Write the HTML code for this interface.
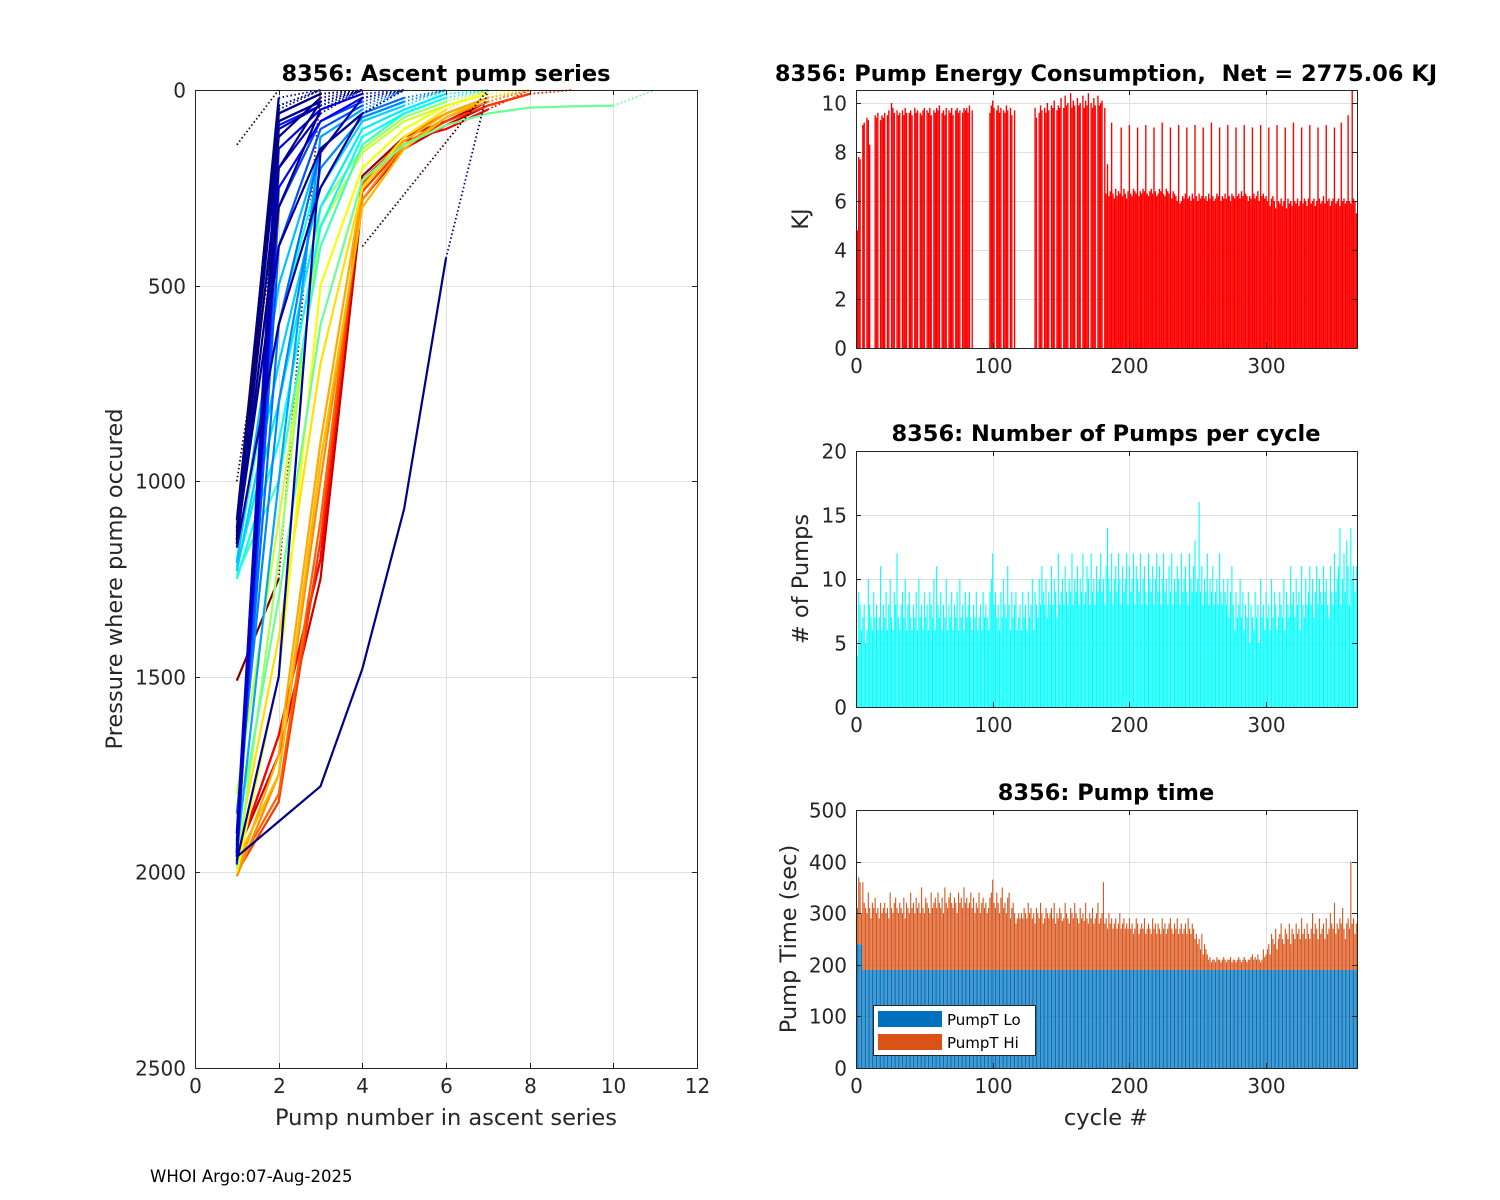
<!DOCTYPE html>
<html><head><meta charset="utf-8"><title>8356 pump summary</title>
<style>
html,body{margin:0;padding:0;background:#fff;}
svg{display:block;font-family:"DejaVu Sans","Liberation Sans",sans-serif;}
</style></head>
<body>
<svg id="fig" width="1500" height="1200" viewBox="0 0 1500 1200" xmlns="http://www.w3.org/2000/svg">
<rect x="0" y="0" width="1500" height="1200" fill="#fff"/>
<text x="150" y="1182" font-size="16.5" fill="#000">WHOI Argo:07-Aug-2025</text>
</svg>
<script>
// ---------------- DATA ----------------
const energyKJ = [
4.8,7.8,7.7,0,9.1,9.2,0,9.4,9.3,8.3, 0,0,0,9.5,9.4,9.6,0,9.3,9.5,9.4,
9.6,0,9.5,9.7,0,10,9.8,9.6,0,9.7, 9.5,9.6,0,9.7,9.5,9.8,9.6,0,9.6,9.7,
9.5,0,9.8,9.6,9.7,0,9.6,9.5,9.7,9.8, 0,9.7,9.6,9.8,9.5,0,9.7,9.6,9.8,9.7,
9.9,0,9.6,9.7,9.5,9.8,0,9.7,9.6,9.8, 9.5,0,9.7,9.8,9.6,9.7,0,9.6,9.8,9.7,
9.8,9.6,9.9,0,9.7,0,0,0,0,0, 0,0,0,0,0,0,0,9.6,9.9,10.1,
9.8,0,9.7,9.9,9.6,9.8,0,9.7,9.6,9.9, 9.7,0,9.8,9.5,0,9.7,0,0,0,0,
0,0,0,0,0,0,0,0,0,0, 9.8,9.4,0,9.6,9.9,9.7,0,9.8,9.6,10,
9.7,0,9.9,9.8,10.1,0,9.7,9.9,9.8,10.2, 0,9.8,10.3,9.9,10,0,10.4,9.8,10.1,9.9,
0,10.2,9.9,10,0,10.3,9.8,10.1,9.9,10.4, 0,10,9.8,10.2,9.9,0,10.3,9.9,10,10.1,
0,9.8,6.3,7.5,6.2,6.4,9.2,6.3,6.1,6.5,
6.2,6.4,6.3,9.0,6.2,6.5,6.3,6.1,6.4,9.1,6.3,6.2,6.5,6.4,6.3,9.0,6.2,6.4,6.3,6.5,
6.4,9.1,6.3,6.2,6.4,6.5,6.3,9.0,6.4,6.2,6.3,6.5,6.4,9.2,6.3,6.2,6.5,6.4,6.3,9.0,
6.1,6.4,6.3,6.2,6.0,9.1,5.9,6.0,6.2,6.1,6.3,9.0,6.1,6.2,6.0,6.3,6.1,9.1,6.2,6.0,
6.3,6.1,6.2,9.0,6.1,6.2,6.0,6.3,6.1,9.2,6.2,6.0,6.1,6.3,6.2,9.0,6.0,6.2,6.1,6.3,
6.1,9.1,6.2,6.0,6.3,6.2,6.1,9.0,6.2,6.3,6.1,6.4,6.2,9.1,6.3,6.2,6.0,6.2,6.1,9.0,
6.3,6.1,6.2,6.4,6.0,9.1,6.2,6.3,6.1,6.2,6.0,9.0,5.8,6.1,6.2,6.0,5.7,9.1,6.0,5.9,
6.1,5.8,6.0,9.0,5.7,6.1,5.9,6.0,5.8,9.2,6.0,5.9,6.1,5.8,6.0,9.0,5.9,6.1,6.0,5.8,
6.1,9.1,5.9,6.0,6.1,5.8,6.0,9.0,6.1,5.9,6.0,6.2,5.9,9.1,6.0,6.1,5.8,6.0,6.1,9.0,
5.9,6.0,6.1,5.8,9.2,6.0,6.1,5.9,6.0,9.5,6.0,5.9,10.5,6.1,6.0,5.5
];
const pumpCount = [
4,9,8,6,7,8,5,6,10,8,7,6,9,7,8,6,7,11,6,8,
7,9,6,8,10,7,6,9,8,12,7,6,8,9,7,10,6,8,9,7,
6,8,7,9,6,10,7,8,6,9,7,8,6,9,8,7,10,6,11,8,
7,9,6,8,7,10,6,8,7,9,6,8,7,9,6,10,7,8,6,9,
7,8,9,7,6,8,7,9,6,7,8,6,9,7,8,7,6,9,10,12,
8,9,7,8,6,9,7,10,8,7,11,8,6,9,7,8,9,6,7,8,
6,9,7,8,6,9,7,8,10,6,9,8,7,10,8,11,9,8,10,7,
9,8,11,8,10,9,7,12,8,9,10,8,11,9,8,10,9,12,8,10,
9,11,8,10,9,12,8,9,11,10,8,12,9,10,8,11,9,10,12,9,
10,8,11,14,10,9,12,8,10,11,9,12,10,8,11,9,10,12,8,11,
9,10,12,8,11,10,9,12,8,10,11,9,8,12,10,9,11,8,10,12,
9,11,8,10,12,9,10,8,11,9,12,8,10,9,11,10,8,12,9,10,
11,9,8,12,10,9,11,13,9,10,
16,9,11,8,10,9,12,8,10,9,11,8,9,10,8,12,9,8,10,9,
8,10,7,9,11,8,6,9,7,8,10,7,9,6,8,7,9,5,8,7,
6,9,7,8,5,10,7,8,6,9,7,8,6,10,7,9,8,6,7,9,
8,7,10,6,9,8,7,11,8,9,7,10,8,9,6,11,8,7,10,8,
9,11,8,10,7,9,11,8,10,9,8,11,9,10,8,7,11,9,8,12,
9,10,11,14,8,10,12,9,13,11,8,14,10,11,9,11
];
const pumpTimeLo = [
240,240,240,240,190,190,190,190,190,190,190,190,190,190,190,190,190,190,190,190,
190,190,190,190,190,190,190,190,190,190,190,190,190,190,190,190,190,190,190,190,
190,190,190,190,190,190,190,190,190,190,190,190,190,190,190,190,190,190,190,190,
190,190,190,190,190,190,190,190,190,190,190,190,190,190,190,190,190,190,190,190,
190,190,190,190,190,190,190,190,190,190,190,190,190,190,190,190,190,190,190,190,
190,190,190,190,190,190,190,190,190,190,190,190,190,190,190,190,190,190,190,190,
190,190,190,190,190,190,190,190,190,190,190,190,190,190,190,190,190,190,190,190,
190,190,190,190,190,190,190,190,190,190,190,190,190,190,190,190,190,190,190,190,
190,190,190,190,190,190,190,190,190,190,190,190,190,190,190,190,190,190,190,190,
190,190,190,190,190,190,190,190,190,190,190,190,190,190,190,190,190,190,190,190,
190,190,190,190,190,190,190,190,190,190,190,190,190,190,190,190,190,190,190,190,
190,190,190,190,190,190,190,190,190,190,190,190,190,190,190,190,190,190,190,190,
190,190,190,190,190,190,190,190,190,190,190,190,190,190,190,190,190,190,190,190,
190,190,190,190,190,190,190,190,190,190,190,190,190,190,190,190,190,190,190,190,
190,190,190,190,190,190,190,190,190,190,190,190,190,190,190,190,190,190,190,190,
190,190,190,190,190,190,190,190,190,190,190,190,190,190,190,190,190,190,190,190,
190,190,190,190,190,190,190,190,190,190,190,190,190,190,190,190,190,190,190,190,
190,190,190,190,190,190,190,190,190,190,190,190,190,190,190,190,190,190,190,190,
190,190,190,190,190,190
];
const pumpTimeHi = [
70,130,120,60,170,130,120,110,150,120,100,130,120,140,110,120,100,130,110,120,
130,110,120,100,150,120,110,130,140,120,110,130,120,110,140,100,130,120,110,150,
120,130,110,140,120,130,110,160,120,110,140,130,120,110,150,120,130,140,120,150,
130,120,140,110,160,130,120,140,150,130,120,140,130,110,150,130,140,120,160,130,
140,120,130,150,120,140,110,130,120,150,110,130,140,120,130,110,120,140,150,175,
130,120,150,130,110,140,160,120,130,110,140,150,100,120,130,110,90,100,110,100,
110,100,120,110,100,130,110,120,100,110,90,120,110,100,130,110,90,100,120,110,
100,110,120,100,130,90,110,100,120,110,95,100,130,110,100,90,120,110,100,130,
110,100,90,120,100,110,95,130,100,90,110,100,120,90,100,110,130,90,100,110,
170,90,100,80,110,90,100,80,90,100,80,90,110,80,90,100,80,90,80,100,
80,90,70,80,100,90,70,80,90,80,100,70,80,90,80,70,100,80,90,70,
90,80,70,100,80,90,70,80,90,100,80,70,90,80,100,70,80,90,70,80,
90,70,100,80,70,90,80,60,70,50,60,40,70,30,50,40,30,20,25,15,
20,20,15,25,20,20,15,20,25,20,15,20,20,25,15,20,20,15,20,25,
20,15,20,25,20,15,20,20,25,30,20,25,20,30,20,15,20,40,25,30,
40,50,30,70,60,50,80,40,60,70,90,60,50,80,70,60,90,50,80,70,
60,90,70,80,60,100,70,80,60,90,70,60,80,110,70,90,80,60,100,70,
80,90,60,100,70,80,110,90,80,130,70,90,80,100,90,120,80,60,90,100,
80,210,90,100,70,90
];
// ascent profiles: pressure at pump 1..n (last point = surfacing, drawn dotted)
const profilePressures = [
[1960,1650,1200,220,120,80,30,0],
[1510,1250,0],
[1950,1700,1250,280,150,90,40,10,0],
[1960,1650,1200,230,130,100,50,0],
[2000,1820,1150,260,140,80,40,10,0],
[1990,1800,1100,240,120,60,20,0],
[2010,1750,1000,280,140,70,30,0],
[2000,1700,900,250,130,60,20,0],
[1970,1750,950,300,150,70,20,0],
[1950,1400,700,250,120,50,0],
[2000,1500,500,200,100,40,10,0],
[1800,1100,350,160,80,40,0],
[1990,1200,300,150,70,30,0],
[1900,1300,600,230,140,90,60,45,42,40,0],
[1240,1000,400,140,60,0],
[1200,600,200,70,30,0],
[1250,900,350,120,60,20,0],
[1220,800,300,100,50,10,0],
[1230,700,250,80,40,0],
[1210,500,150,60,0],
[1950,1000,120,50,0],
[1850,800,200,70,30,0],
[1900,600,150,60,20,0],
[1950,400,100,40,0],
[1960,300,80,30,0],
[1920,40,0],
[1980,90,40,0],
[1950,250,80,20,0],
[1900,80,30,0],
[1940,150,50,10,0],
[1960,60,10,0],
[1950,100,40,0],
[1930,200,60,0],
[1960,1870,1780,1480,1070,430,0],
[1970,1500,160,20,0],
[1130,20,0],
[1150,200,30,0],
[1100,40,0],
[1160,300,50,0],
[1140,120,20,0],
[1150,60,10,0],
[1120,80,30,0],
[1150,400,150,60,0],
[1170,600,250,60,0],
[1160,50,0]
];
const profileCycle = [360,366,340,320,300,285,270,260,255,240,225,210,195,175,160,150,140,130,120,115,105,95,85,75,70,65,55,45,40,35,30,25,20,3,12,10,8,6,4,2,1,5,7,9,0];
const leftXTicks = [0,2,4,6,8,10,12];
const leftYTicks = [0,500,1000,1500,2000,2500];
const cycleTicks = [0,100,200,300];
const energyTicks = [0,2,4,6,8,10];
const pumpTicks = [0,5,10,15,20];
const timeTicks = [0,100,200,300,400,500];

// ---------------- RENDER ----------------
const NS = "http://www.w3.org/2000/svg";
const svg = document.getElementById("fig");
const TICK_FS = 20, LABEL_FS = 22.5;
function mk(tag, attrs, parent){
  const el = document.createElementNS(NS, tag);
  for (const k in attrs) el.setAttribute(k, attrs[k]);
  (parent || svg).appendChild(el);
  return el;
}
function jet(t){
  const r = Math.max(0, Math.min(1, 1.5 - Math.abs(4*t - 3)));
  const g = Math.max(0, Math.min(1, 1.5 - Math.abs(4*t - 2)));
  const b = Math.max(0, Math.min(1, 1.5 - Math.abs(4*t - 1)));
  return `rgb(${Math.round(r*255)},${Math.round(g*255)},${Math.round(b*255)})`;
}
function makeAxes(name, x0, y0, w, h, xmin, xmax, ymin, ymax, xticks, yticks, revY){
  const ax = {
    sx: v => x0 + (v - xmin) / (xmax - xmin) * w,
    sy: v => revY ? y0 + (v - ymin) / (ymax - ymin) * h : y0 + h - (v - ymin) / (ymax - ymin) * h,
    x0, y0, w, h
  };
  const g = mk("g", {});
  
  
  const bg = mk("rect", {x:x0, y:y0, width:w, height:h, fill:"#fff"}, g);
  
  
  const grid = mk("g", {stroke:"#dfdfdf", "stroke-width":1}, g);
  
  
  xticks.forEach(t => {
    const x = Math.round(ax.sx(t)) + 0.5;
    mk("line", {x1:x, x2:x, y1:y0, y2:y0+h}, grid);
  });
  yticks.forEach(t => {
    const y = Math.round(ax.sy(t)) + 0.5;
    mk("line", {x1:x0, x2:x0+w, y1:y, y2:y}, grid);
  });
  ax.plot = mk("g", {}, g);
  
  
  ax.finish = function(){
    const f = mk("g", {}, g);
    
    
    mk("rect", {x:x0+0.5, y:y0+0.5, width:w, height:h, fill:"none", stroke:"#262626", "stroke-width":1}, f);
    xticks.forEach(t => {
      const x = Math.round(ax.sx(t)) + 0.5;
      mk("line", {x1:x, x2:x, y1:y0+h, y2:y0+h-5, stroke:"#262626"}, f);
      mk("line", {x1:x, x2:x, y1:y0, y2:y0+5, stroke:"#262626"}, f);
      const tl = mk("text", {x:x, y:y0+h+25, "text-anchor":"middle", "font-size":TICK_FS, fill:"#262626"}, f);
      tl.textContent = String(t);
      
      
    });
    yticks.forEach(t => {
      const y = Math.round(ax.sy(t)) + 0.5;
      mk("line", {x1:x0, x2:x0+5, y1:y, y2:y, stroke:"#262626"}, f);
      mk("line", {x1:x0+w, x2:x0+w-5, y1:y, y2:y, stroke:"#262626"}, f);
      const tl = mk("text", {x:x0-9, y:y+7, "text-anchor":"end", "font-size":TICK_FS, fill:"#262626"}, f);
      tl.textContent = String(t);
      
      
    });
  };
  return ax;
}
function label(txt, x, y, size, weight, rot, nm){
  const a = {x:x, y:y, "text-anchor":"middle", "font-size":size, fill: weight ? "#000" : "#262626"};
  if (weight) a["font-weight"] = "bold";
  if (rot) a.transform = `rotate(-90 ${x} ${y})`;
  const t = mk("text", a);
  t.textContent = txt;
  
  
  return t;
}

// Left: ascent pump series
const axL = makeAxes("ascent", 195, 90, 502, 978, 0, 12, 0, 2500, leftXTicks, leftYTicks, true);
profilePressures.forEach((prof, k) => {
  const col = jet(profileCycle[k] / 366);
  const n = prof.length;
  let d = "";
  for (let i = 0; i < n - 1; i++) d += (i ? "L" : "M") + axL.sx(i+1).toFixed(1) + " " + axL.sy(prof[i]).toFixed(1);
  const solid = mk("path", {d:d, fill:"none", stroke:col, "stroke-width":2.2, "stroke-linejoin":"round"}, axL.plot);
  
  
  const dot = mk("line", {x1:axL.sx(n-1), y1:axL.sy(prof[n-2]), x2:axL.sx(n), y2:axL.sy(prof[n-1]), stroke:col, "stroke-width":1.8, "stroke-dasharray":"1.5 2.5"}, axL.plot);
  
  
});
const dottedFrom = [[1,140,2,0],[1,1000,2,300],[4,400,7,0]];
dottedFrom.forEach(s => {
  const dl = mk("line", {x1:axL.sx(s[0]), y1:axL.sy(s[1]), x2:axL.sx(s[2]), y2:axL.sy(s[3]), stroke:"#300000", "stroke-width":1.8, "stroke-dasharray":"1.5 2.5"}, axL.plot);
  
  
});
axL.finish();
label("8356: Ascent pump series", 446, 81, LABEL_FS, true, false, "ascent-title");
label("Pump number in ascent series", 446, 1125, LABEL_FS, false, false, "ascent-x-axis-title");
label("Pressure where pump occured", 122, 579, LABEL_FS, false, true, "ascent-y-axis-title");

// Right top: energy
const XMAX = 366.5;
const axE = makeAxes("energy", 856, 90, 501, 258, 0, XMAX, 0, 10.53, cycleTicks, energyTicks, false);
energyKJ.forEach((v, i) => {
  if (v <= 0) return;
  const c = i + 1, bw = 1.0;
  const r = mk("rect", {x:axE.sx(c - bw/2), y:axE.sy(v), width:axE.sx(c + bw/2) - axE.sx(c - bw/2), height:axE.sy(0) - axE.sy(v), fill:"#ff0000"}, axE.plot);
  
  
});
axE.finish();
label("8356: Pump Energy Consumption,\u00a0 Net = 2775.06 KJ", 1106, 81, LABEL_FS, true, false, "energy-title");
label("KJ", 808, 219, LABEL_FS, false, true, "energy-y-axis-title");

// Right middle: pumps
const axP = makeAxes("pumps", 856, 451, 501, 256, 0, XMAX, 0, 20, cycleTicks, pumpTicks, false);
pumpCount.forEach((v, i) => {
  const c = i + 1, bw = 0.8;
  const r = mk("rect", {x:axP.sx(c - bw/2), y:axP.sy(v), width:axP.sx(c + bw/2) - axP.sx(c - bw/2), height:axP.sy(0) - axP.sy(v), fill:"#00ffff"}, axP.plot);
  
  
});
axP.finish();
label("8356: Number of Pumps per cycle", 1106, 441, LABEL_FS, true, false, "pumps-title");
label("# of Pumps", 808, 579, LABEL_FS, false, true, "pumps-y-axis-title");

// Right bottom: pump time stacked
const axT = makeAxes("pumptime", 856, 810, 501, 258, 0, XMAX, 0, 500, cycleTicks, timeTicks, false);
pumpTimeLo.forEach((lo, i) => {
  const hi = pumpTimeHi[i], c = i + 1, bw = 0.8;
  const x = axT.sx(c - bw/2), w = axT.sx(c + bw/2) - axT.sx(c - bw/2);
  const rl = mk("rect", {x:x, y:axT.sy(lo), width:w, height:axT.sy(0) - axT.sy(lo), fill:"#0072bd"}, axT.plot);
  
  
  const rh = mk("rect", {x:x, y:axT.sy(lo + hi), width:w, height:axT.sy(lo) - axT.sy(lo + hi), fill:"#d95319"}, axT.plot);
  
  
});
axT.finish();
label("8356: Pump time", 1106, 800, LABEL_FS, true, false, "pumptime-title");
label("Pump Time (sec)", 796, 939, LABEL_FS, false, true, "pumptime-y-axis-title");
label("cycle #", 1106, 1125, LABEL_FS, false, false, "pumptime-x-axis-title");

// legend
const lg = mk("g", {});


mk("rect", {x:873.5, y:1005.5, width:162, height:50, fill:"#fff", stroke:"#262626", "stroke-width":1}, lg);
const e1 = mk("rect", {x:878, y:1011, width:64, height:16, fill:"#0072bd"}, lg);


const t1 = mk("text", {x:947, y:1025, "font-size":15, fill:"#000"}, lg);
t1.textContent = "PumpT Lo";


const e2 = mk("rect", {x:878, y:1034, width:64, height:16, fill:"#d95319"}, lg);


const t2 = mk("text", {x:947, y:1048, "font-size":15, fill:"#000"}, lg);
t2.textContent = "PumpT Hi";


</script>
</body></html>
